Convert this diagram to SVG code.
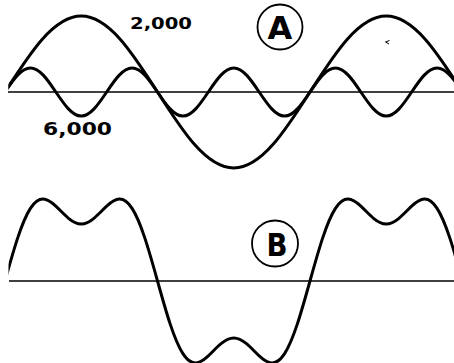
<svg xmlns="http://www.w3.org/2000/svg" width="454" height="363" viewBox="0 0 454 363">
<style>
.axis{stroke:#000;stroke-width:1.6;fill:none}
.wave{stroke:#000;stroke-width:3;fill:none;stroke-linecap:round;stroke-linejoin:round}
.ring{stroke:#000;stroke-width:1.8;fill:#fff}
.lbl{font-family:"DejaVu Sans","Liberation Sans",sans-serif;font-weight:bold;fill:#000}
.big{font-family:"DejaVu Sans","Liberation Sans",sans-serif;font-weight:bold;fill:#000;text-anchor:middle}
</style>
<defs>
<clipPath id="clip"><rect x="8.5" y="0" width="450" height="363"/></clipPath>
</defs>
<rect width="454" height="363" fill="#fff"/>
<g id="connectors">
<line id="axisA" class="axis" x1="8" y1="92" x2="454" y2="92"/>
<line id="axisB" class="axis" x1="9" y1="281" x2="454" y2="281"/>
</g>
<g clip-path="url(#clip)">
<g id="wave-2000">
<path class="wave" d="M5,92 C29.87,53.07 53.65,16 81.25,16 S132.63,53.07 157.5,92 S206.15,168 233.75,168 S285.13,130.93 310,92 S358.65,16 386.25,16 S437.63,53.07 462.5,92"/>
</g>
<g id="wave-6000">
<path class="wave" d="M5,92 C13.29,79.71 21.22,68 30.42,68 S47.54,79.71 55.83,92 S72.05,116 81.25,116 S98.38,104.29 106.67,92 S122.88,68 132.08,68 S149.21,79.71 157.5,92 S173.72,116 182.92,116 S200.04,104.29 208.33,92 S224.55,68 233.75,68 S250.88,79.71 259.17,92 S275.38,116 284.58,116 S301.71,104.29 310,92 S326.22,68 335.42,68 S352.54,79.71 360.83,92 S377.05,116 386.25,116 S403.38,104.29 411.67,92 S427.88,68 437.08,68 S454.21,79.71 462.5,92"/>
</g>
<g id="wave-sum">
<path class="wave" d="M5,281 C9.24,265.77 13.47,250.62 17.71,237.9 S26.18,214.93 30.42,208.4 S38.89,199.0 43.13,199.1 S51.59,202.28 55.83,206.2 S64.3,214.81 68.54,218.3 S77.01,224 81.25,224 S89.72,221.79 93.96,218.3 S102.43,210.12 106.67,206.2 S115.14,199.2 119.38,199.1 S127.84,201.87 132.08,208.4 S140.55,225.18 144.79,237.9 S153.26,265.77 157.5,281 S165.97,311.38 170.21,324.1 S178.68,347.07 182.92,353.6 S191.39,363.0 195.63,362.9 S204.09,359.72 208.33,355.8 S216.8,347.19 221.04,343.7 S229.51,338 233.75,338 S242.22,340.21 246.46,343.7 S254.93,351.88 259.17,355.8 S267.64,362.8 271.88,362.9 S280.34,360.13 284.58,353.6 S293.05,336.82 297.29,324.1 S305.76,296.23 310,281 S318.47,250.62 322.71,237.9 S331.18,214.93 335.42,208.4 S343.89,199.0 348.13,199.1 S356.59,202.28 360.83,206.2 S369.3,214.81 373.54,218.3 S382.01,224 386.25,224 S394.72,221.79 398.96,218.3 S407.43,210.12 411.67,206.2 S420.14,199.2 424.38,199.1 S432.84,201.87 437.08,208.4 S445.55,225.18 449.79,237.9 S458.26,265.77 462.5,281"/>
</g>
</g>
<g id="label-2000">
<text class="lbl" x="130" y="29" font-size="16" textLength="62" lengthAdjust="spacingAndGlyphs">2,000</text>
</g>
<g id="label-6000">
<text class="lbl" x="43" y="135" font-size="17" textLength="69" lengthAdjust="spacingAndGlyphs">6,000</text>
</g>
<g id="badge-A">
<circle class="ring" cx="280" cy="27" r="22.5"/>
<text class="big" x="280" y="38.5" font-size="32">A</text>
</g>
<g id="badge-B">
<circle class="ring" cx="275" cy="243.5" r="23"/>
<text class="big" x="277" y="255.5" font-size="32" textLength="21" lengthAdjust="spacingAndGlyphs">B</text>
</g>
<path d="M389.5,40.5 L385.5,42 L389,44" stroke="#000" stroke-width="1" fill="none"/>
</svg>
